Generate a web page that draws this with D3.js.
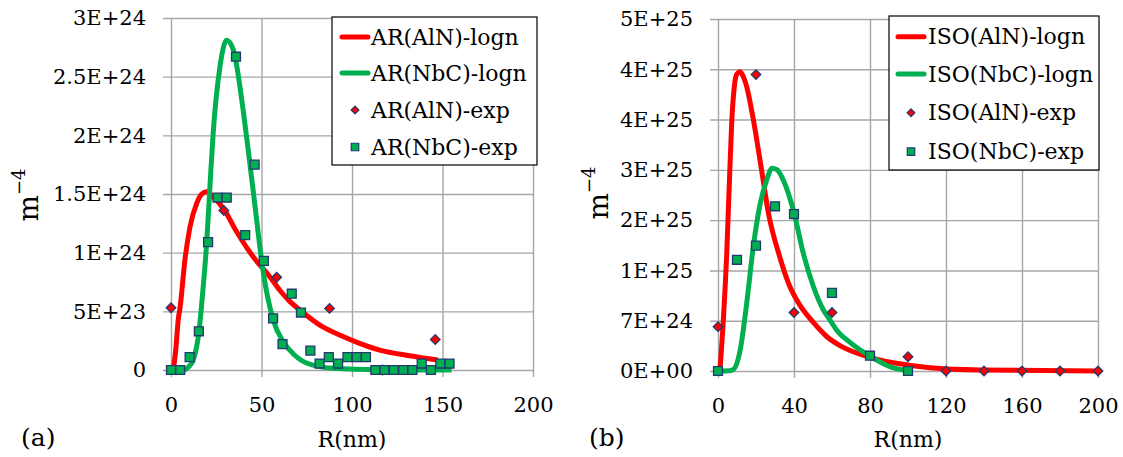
<!DOCTYPE html>
<html>
<head>
<meta charset="utf-8">
<script src="https://cdn.jsdelivr.net/npm/d3@7"></script>
<style>
  body { margin: 0; background: #fff; }
  svg { display: block; font-family: "DejaVu Serif", serif; }
  .grid line { stroke: #a6a6a6; stroke-width: 1.4; }
  .grid path.domain { display: none; }
  .grid text { font-size: 21px; fill: #000; font-family: "DejaVu Serif", serif; }
</style>
</head>
<body>
<svg id="chart" width="1123" height="457"></svg>
<script>
// ---- panel (a): AR, values in units of 1E+24 m^-4
const arTicksY = [0, 0.5, 1, 1.5, 2, 2.5, 3];
const arTickLabelsY = ["0", "5E+23", "1E+24", "1.5E+24", "2E+24", "2.5E+24", "3E+24"];
const arTicksX = [0, 50, 100, 150, 200];

const arAlnLogn = [
  [1.3, 0], [2.8, 0.2], [4, 0.43], [5, 0.53], [7.7, 0.94], [10.5, 1.22], [14.2, 1.42],
  [17, 1.5], [19.7, 1.52], [23, 1.48], [29.2, 1.37], [36.2, 1.18], [45.4, 0.965],
  [54.6, 0.795], [60.1, 0.68], [65.6, 0.585], [71.2, 0.511], [82.2, 0.383],
  [93.2, 0.298], [104.2, 0.227], [115.3, 0.17], [131.8, 0.122], [147.4, 0.085]
];
const arNbcLogn = [
  [5, 0], [8, 0.005], [10, 0.03], [12.3, 0.085], [15.3, 0.31], [17.8, 0.71], [19.7, 1.08],
  [21.5, 1.56], [23.3, 2.02], [27, 2.58], [30.7, 2.81], [34.4, 2.73], [39.9, 2.21],
  [42.7, 1.87], [45.4, 1.53], [47.3, 1.28], [50.9, 0.84], [56.4, 0.43], [62, 0.24],
  [65.6, 0.17], [74.8, 0.06], [89.5, 0.015], [115, 0.002], [155, 0]
];
const arAlnExpR = [0, 29.2, 58.4, 87.6, 116.8, 146];
const arAlnExp = [0.53, 1.36, 0.79, 0.525, 0, 0.26];
const arNbcExpR = [0, 5.1, 10.3, 15.4, 20.5, 25.7, 30.8, 35.9, 41.0, 46.2, 51.3, 56.4, 61.6,
  66.7, 71.8, 77.0, 82.1, 87.2, 92.3, 97.5, 102.6, 107.7, 112.9, 118.0, 123.1, 128.3,
  133.4, 138.5, 143.6, 148.8, 153.9];
const arNbcExp = [0, 0, 0.11, 0.33, 1.09, 1.47, 1.47, 2.67, 1.15, 1.75, 0.93, 0.44, 0.22,
  0.65, 0.49, 0.165, 0.055, 0.11, 0.055, 0.11, 0.11, 0.11, 0, 0, 0, 0,
  0, 0.055, 0, 0.055, 0.055];

// ---- panel (b): ISO, values in units of 1E+24 m^-4
const isoTicksY = [0, 7.142857, 14.285714, 21.428571, 28.571429, 35.714286, 42.857143, 50];
const isoTickLabelsY = ["0E+00", "7E+24", "1E+25", "2E+25", "3E+25", "4E+25", "4E+25", "5E+25"];
const isoTicksX = [0, 40, 80, 120, 160, 200];

const isoAlnLogn = [
  [1, 0], [2.8, 7.2], [4.6, 16.7], [5.9, 26.2], [7.2, 35.2], [8.8, 40.9], [10, 42.2],
  [11.6, 42.5], [13, 42], [15.1, 40.4], [18.6, 35.7], [22.9, 28.6], [26.5, 22.5],
  [32.5, 16.2], [37.8, 12.0], [43, 9.4], [50.2, 6.9], [57.2, 4.9], [64.2, 3.6],
  [80, 1.95], [94, 1.09], [111.6, 0.45], [137.9, 0.14], [200, 0.01]
];
const isoNbcLogn = [
  [0, 0], [6, 0.05], [8, 0.2], [11.7, 3.0], [15.1, 9.6], [18.6, 17.7], [22.1, 23.6],
  [25.6, 27.1], [28.5, 28.8], [31, 28.6], [34.4, 27.1], [40, 22.5], [44.9, 16.7],
  [50.2, 12.0], [55.4, 8.7], [58.8, 7.3], [62.5, 5.8], [69.3, 4.1], [80, 2.1],
  [90.5, 0.6], [100, 0]
];
const isoAlnExpR = [0, 20, 40, 60, 100, 120, 140, 160, 180, 200];
const isoAlnExp = [6.3, 42.1, 8.3, 8.3, 2.03, 0, 0, 0, 0, 0];
const isoNbcExpR = [0, 10, 20, 30, 40, 60, 80, 100];
const isoNbcExp = [0, 15.8, 17.8, 23.4, 22.3, 11.1, 2.17, 0];

const RED = "#ff0000", GREEN = "#00b050", EDGE = "#223a70";

const svg = d3.select("#chart");

function drawPanel(o) {
  const g = svg.append("g");
  const x = d3.scaleLinear().domain([0, 200]).range([o.left, o.right]);
  const y = d3.scaleLinear().domain([0, o.yMax]).range([o.bottom, o.top]);

  g.append("g").attr("class", "grid")
    .attr("transform", `translate(${o.left - 8},0)`)
    .call(d3.axisLeft(y).tickValues(o.yTicks)
      .tickFormat((d, i) => o.yLabels[i])
      .tickSize(-(o.right - o.left + 8)).tickPadding(17));

  g.append("g").attr("class", "grid")
    .attr("transform", `translate(0,${o.bottom + 7})`)
    .call(d3.axisBottom(x).tickValues(o.xTicks)
      .tickSize(-(o.bottom - o.top + 7)).tickPadding(20));

  const line = d3.line().x(d => x(d[0])).y(d => y(d[1])).curve(d3.curveMonotoneX);
  o.lines.forEach(s => {
    g.append("path").datum(s.data)
      .attr("fill", "none").attr("stroke", s.color)
      .attr("stroke-width", 5).attr("stroke-linejoin", "round")
      .attr("d", line);
  });

  const diamond = d3.symbol().type(d3.symbolSquare).size(46)();
  const square = d3.symbol().type(d3.symbolSquare).size(80)();
  g.append("g").selectAll("path")
    .data(o.diamondR.map((r, i) => [r, o.diamondV[i]]))
    .join("path")
    .attr("d", diamond)
    .attr("transform", d => `translate(${x(d[0])},${y(d[1])}) rotate(45)`)
    .attr("fill", RED).attr("stroke", EDGE).attr("stroke-width", 1.3);
  g.append("g").selectAll("path")
    .data(o.squareR.map((r, i) => [r, o.squareV[i]]))
    .join("path")
    .attr("d", square)
    .attr("transform", d => `translate(${x(d[0])},${y(d[1])})`)
    .attr("fill", GREEN).attr("stroke", EDGE).attr("stroke-width", 1.3);

  // legend
  const lg = g.append("g").attr("transform", `translate(${o.leg.x},${o.leg.y})`);
  lg.append("rect").attr("width", o.leg.w).attr("height", o.leg.h)
    .attr("fill", "#fff").attr("stroke", "#000").attr("stroke-width", 1.2);
  o.names.forEach((name, i) => {
    const ry = o.leg.rows[i];
    if (i < 2) {
      lg.append("line").attr("x1", o.leg.lx1).attr("x2", o.leg.lx2)
        .attr("y1", ry).attr("y2", ry)
        .attr("stroke", i === 0 ? RED : GREEN).attr("stroke-width", 5)
        .attr("stroke-linecap", "round");
    } else if (i === 2) {
      lg.append("path").attr("d", d3.symbol().type(d3.symbolSquare).size(30)())
        .attr("transform", `translate(${o.leg.mx},${ry}) rotate(45)`)
        .attr("fill", RED).attr("stroke", EDGE).attr("stroke-width", 1.2);
    } else {
      lg.append("path").attr("d", d3.symbol().type(d3.symbolSquare).size(56)())
        .attr("transform", `translate(${o.leg.mx},${ry})`)
        .attr("fill", GREEN).attr("stroke", EDGE).attr("stroke-width", 1.2);
    }
    lg.append("text").attr("x", o.leg.tx).attr("y", ry).attr("dy", "0.35em")
      .attr("font-size", 22).text(name);
  });

  // axis titles
  g.append("text").attr("x", (o.left + o.right) / 2).attr("y", 447)
    .attr("text-anchor", "middle").attr("font-size", 22).text("R(nm)");
  g.append("text").attr("x", o.tagX).attr("y", 446)
    .attr("font-size", 25).text(o.tag);
  const yl = g.append("text")
    .attr("transform", `translate(${o.ylX},${o.ylY}) rotate(-90)`)
    .attr("text-anchor", "middle");
  yl.append("tspan").attr("font-size", 28).text("m");
  yl.append("tspan").attr("font-size", 18).attr("dy", -13).text("\u22124");
}

drawPanel({
  left: 171, right: 533, top: 18, bottom: 370, yMax: 3,
  yTicks: arTicksY, yLabels: arTickLabelsY, xTicks: arTicksX,
  lines: [{ data: arAlnLogn, color: RED }, { data: arNbcLogn, color: GREEN }],
  diamondR: arAlnExpR, diamondV: arAlnExp, squareR: arNbcExpR, squareV: arNbcExp,
  names: ["AR(AlN)-logn", "AR(NbC)-logn", "AR(AlN)-exp", "AR(NbC)-exp"],
  leg: { x: 332, y: 17, w: 205, h: 148, rows: [20, 56, 93, 130], lx1: 10, lx2: 36, mx: 23, tx: 39 },
  tag: "(a)", tagX: 21, ylX: 38, ylY: 195
});

drawPanel({
  left: 718, right: 1098, top: 19, bottom: 371, yMax: 50,
  yTicks: isoTicksY, yLabels: isoTickLabelsY, xTicks: isoTicksX,
  lines: [{ data: isoAlnLogn, color: RED }, { data: isoNbcLogn, color: GREEN }],
  diamondR: isoAlnExpR, diamondV: isoAlnExp, squareR: isoNbcExpR, squareV: isoNbcExp,
  names: ["ISO(AlN)-logn", "ISO(NbC)-logn", "ISO(AlN)-exp", "ISO(NbC)-exp"],
  leg: { x: 889, y: 16, w: 210, h: 154, rows: [20.7, 58, 96.7, 135.7], lx1: 9, lx2: 35, mx: 22, tx: 39 },
  tag: "(b)", tagX: 589, ylX: 608, ylY: 193
});
</script>
</body>
</html>
